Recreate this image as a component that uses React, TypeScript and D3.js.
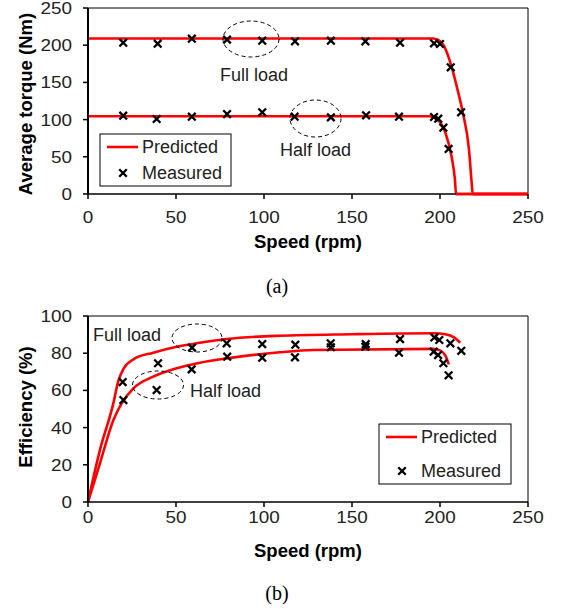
import React from "react";
import * as d3 from "d3";

// ---------- Data ----------
// (a) Torque vs speed
const torquePredFullX = [0, 196, 199, 202, 206.6, 210, 212.9, 216.5, 218, 218.6, 250];
const torquePredFullY = [209, 209, 207, 200, 171, 140, 110, 59, 15, 0, 0];
const torquePredHalfX = [0, 194, 198.5, 203.2, 206.6, 208.5, 209.1, 250];
const torquePredHalfY = [104.5, 104.5, 100, 81.5, 50, 19, 0, 0];
const torqueMeasFullX = [20, 39.6, 59, 79, 99, 117.6, 138, 157.6, 177.3, 196.6, 200, 206.1, 212];
const torqueMeasFullY = [203.4, 202, 208.8, 207.5, 206, 205.2, 206, 205.2, 203.4, 202.5, 201.6, 170.3, 109.8];
const torqueMeasHalfX = [20, 39, 59, 79, 99, 117.4, 138, 158, 176.7, 196.6, 199, 201.9, 204.9];
const torqueMeasHalfY = [105.3, 100.8, 103.9, 107.5, 109.8, 103.9, 103, 105.7, 103.9, 103.5, 101.2, 89.1, 60.5];

// (b) Efficiency vs speed
const effPredFullX = [0, 6.8, 14.4, 17.2, 20.1, 25.8, 37.1, 50.4, 63.6, 78.8, 109, 150, 197, 203, 208, 211.5];
const effPredFullY = [0, 28, 53, 65, 71.5, 76.7, 80.3, 83.5, 85.6, 87.6, 89.4, 90.2, 90.7, 90.2, 88.5, 85.6];
const effPredHalfX = [0, 6.8, 14.4, 19.1, 25.8, 37.1, 50.4, 63.6, 78.8, 109, 128, 196, 200, 203, 205];
const effPredHalfY = [0, 20.8, 44, 53, 61.1, 67.4, 71.9, 74.9, 77.2, 80.5, 81.7, 82.3, 81.5, 78.8, 74];
const effMeasFullX = [19.7, 39.8, 59.1, 78.8, 99, 117.8, 137.9, 157.8, 177.3, 196.8, 199.6, 205.9, 212.1];
const effMeasFullY = [64.5, 74.6, 83.0, 85.3, 84.9, 84.6, 85.3, 84.9, 87.6, 88.5, 87.1, 85.3, 81.3];
const effMeasHalfX = [20.1, 39, 58.9, 79.1, 99, 117.6, 138, 157.6, 176.7, 196.4, 198.9, 201.9, 204.9];
const effMeasHalfY = [54.8, 60.2, 71.3, 78.1, 77.6, 77.8, 83.2, 83.5, 80.3, 80.8, 79.0, 74.6, 68.1];

const xTicks = [0, 50, 100, 150, 200, 250];
const torqueTicks = [0, 50, 100, 150, 200, 250];
const effTicks = [0, 20, 40, 60, 80, 100];

const FONT = "'Liberation Sans', Arial, sans-serif";
const RED = "#ff0000";

const zip = (xs: number[], ys: number[]) => xs.map((x, i) => [x, ys[i]] as [number, number]);

type Ann = { cx: number; cy: number; rx: number; ry: number; text: string; tx: number; ty: number; anchor?: string };

function Panel(props: {
  top: number;
  bottom: number;
  yMax: number;
  yTicks: number[];
  yTitle: string;
  yTitleCenter: number;
  predicted: [number, number][][];
  measured: [number, number][][];
  legend: { x: number; y: number; w: number; h: number };
  anns: Ann[];
  caption: string;
  captionY: number;
  xTitleY: number;
  xLabelY: number;
}) {
  const x = d3.scaleLinear().domain([0, 250]).range([88, 528]);
  const y = d3.scaleLinear().domain([0, props.yMax]).range([props.bottom, props.top]);
  const line = d3
    .line<[number, number]>()
    .x((d) => x(d[0]))
    .y((d) => y(d[1]))
    .curve(d3.curveMonotoneX);
  const cross = (cx: number, cy: number, k: string) => (
    <path
      key={k}
      d={`M${cx - 3.8},${cy - 3.8}L${cx + 3.8},${cy + 3.8}M${cx - 3.8},${cy + 3.8}L${cx + 3.8},${cy - 3.8}`}
      stroke="#000"
      strokeWidth={2.3}
    />
  );
  const L = props.legend;
  return (
    <g fontFamily={FONT}>
      {/* frame */}
      <line x1={88} x2={528} y1={props.top} y2={props.top} stroke="#000" strokeWidth={1} />
      <line x1={528} x2={528} y1={props.top} y2={props.bottom} stroke="#000" strokeWidth={1} />
      {/* predicted */}
      {props.predicted.map((p, i) => (
        <path key={"p" + i} d={line(p) || ""} fill="none" stroke={RED} strokeWidth={2.6} />
      ))}
      {/* axes */}
      <line x1={88} x2={88} y1={props.top} y2={props.bottom} stroke="#000" strokeWidth={2} />
      <line x1={88} x2={528} y1={props.bottom} y2={props.bottom} stroke="#000" strokeWidth={1.6} />
      {props.predicted.map((p, i) => {
        const zeros = p.filter((d) => d[1] === 0 && d[0] > 0);
        return zeros.length > 1 ? (
          <path key={"pb" + i} d={line(zeros) || ""} fill="none" stroke={RED} strokeWidth={2.4} />
        ) : null;
      })}
      {xTicks.map((t) => (
        <g key={"xt" + t}>
          <line x1={x(t)} x2={x(t)} y1={props.bottom} y2={props.bottom + 5} stroke="#000" strokeWidth={1.5} />
          <text
            x={x(t)}
            y={props.xLabelY}
            textAnchor="middle"
            fontSize={17}
            fill="#222"
            textLength={String(t).length * 10.5}
            lengthAdjust="spacingAndGlyphs"
          >
            {t}
          </text>
        </g>
      ))}
      {props.yTicks.map((t) => (
        <g key={"yt" + t}>
          <line x1={83} x2={88} y1={y(t)} y2={y(t)} stroke="#000" strokeWidth={1.5} />
          <text
            x={72}
            y={y(t) + 6}
            textAnchor="end"
            fontSize={17}
            fill="#222"
            textLength={String(t).length * 10.5}
            lengthAdjust="spacingAndGlyphs"
          >
            {t}
          </text>
        </g>
      ))}
      {/* measured */}
      {props.measured.map((s, i) => s.map((d, j) => cross(x(d[0]), y(d[1]), `m${i}-${j}`)))}
      {/* annotations */}
      {props.anns.map((a, i) => (
        <g key={"a" + i}>
          <ellipse cx={a.cx} cy={a.cy} rx={a.rx} ry={a.ry} fill="none" stroke="#000" strokeWidth={1} strokeDasharray="4,3" />
          <text x={a.tx} y={a.ty} fontSize={18} fill="#222" textAnchor={a.anchor || "start"}>
            {a.text}
          </text>
        </g>
      ))}
      {/* legend */}
      <rect x={L.x} y={L.y} width={L.w} height={L.h} fill="#fff" stroke="#000" strokeWidth={1} />
      <line x1={L.x + 7} x2={L.x + 38} y1={L.y + 13} y2={L.y + 13} stroke={RED} strokeWidth={2.6} />
      <text x={L.x + 42} y={L.y + 19} fontSize={18} fill="#222">
        Predicted
      </text>
      {cross(L.x + 23, L.y + L.h - 13, "leg")}
      <text x={L.x + 42} y={L.y + L.h - 7} fontSize={18} fill="#222">
        Measured
      </text>
      {/* titles */}
      <text x={308} y={props.xTitleY} textAnchor="middle" fontSize={18.5} fontWeight="bold" fill="#000">
        Speed (rpm)
      </text>
      <text
        transform={`translate(32,${props.yTitleCenter}) rotate(-90)`}
        textAnchor="middle"
        fontSize={18.5}
        fontWeight="bold"
        fill="#000"
      >
        {props.yTitle}
      </text>
      <text x={277} y={props.captionY} textAnchor="middle" fontSize={20} fontFamily="'Liberation Serif', 'Times New Roman', serif" fill="#000">
        {props.caption}
      </text>
    </g>
  );
}

export default function App() {
  return (
    <svg width={563} height={609} style={{ position: "absolute", left: 0, top: 0, background: "#fff" }}>
      <rect width={563} height={609} fill="#fff" />
      <Panel
        top={8}
        bottom={194}
        yMax={250}
        yTicks={torqueTicks}
        yTitle="Average torque (Nm)"
        yTitleCenter={104}
        predicted={[zip(torquePredFullX, torquePredFullY), zip(torquePredHalfX, torquePredHalfY)]}
        measured={[zip(torqueMeasFullX, torqueMeasFullY), zip(torqueMeasHalfX, torqueMeasHalfY)]}
        legend={{ x: 100, y: 134, w: 131, h: 52 }}
        anns={[
          { cx: 251, cy: 39, rx: 28, ry: 18, text: "Full load", tx: 220, ty: 81 },
          { cx: 315.5, cy: 118.5, rx: 25.5, ry: 18.5, text: "Half load", tx: 351, ty: 156, anchor: "end" },
        ]}
        caption="(a)"
        captionY={293}
        xTitleY={248}
        xLabelY={223}
      />
      <Panel
        top={316}
        bottom={502}
        yMax={100}
        yTicks={effTicks}
        yTitle="Efficiency (%)"
        yTitleCenter={407}
        predicted={[zip(effPredFullX, effPredFullY), zip(effPredHalfX, effPredHalfY)]}
        measured={[zip(effMeasFullX, effMeasFullY), zip(effMeasHalfX, effMeasHalfY)]}
        legend={{ x: 379, y: 424, w: 132, h: 60 }}
        anns={[
          { cx: 197, cy: 338, rx: 25, ry: 14, text: "Full load", tx: 93, ty: 341 },
          { cx: 158, cy: 385, rx: 25.5, ry: 14, text: "Half load", tx: 190, ty: 397 },
        ]}
        caption="(b)"
        captionY={600}
        xTitleY={557}
        xLabelY={523}
      />
    </svg>
  );
}
